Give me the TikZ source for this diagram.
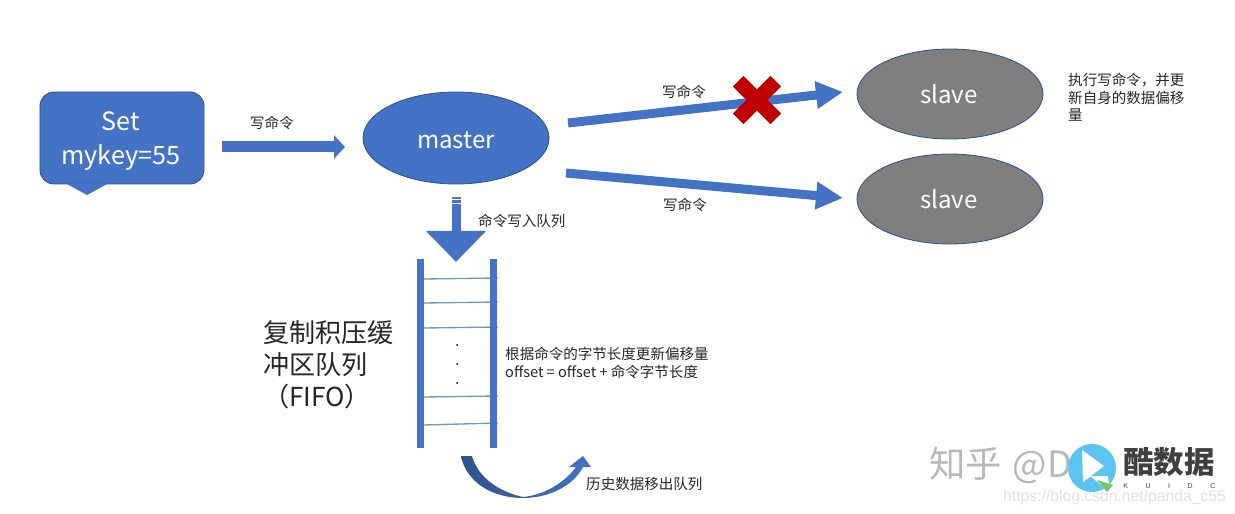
\documentclass[tikz,border=0pt]{standalone}
\usepackage{fontspec}
\setmainfont{Noto Sans CJK SC}
\newfontfamily\urlfont{Liberation Sans}
\usetikzlibrary{arrows.meta,shapes.misc,shapes.geometric}
\definecolor{boxblue}{HTML}{4472C4}
\definecolor{edgeblue}{HTML}{2F528F}
\definecolor{slavegray}{HTML}{7F7F7F}
\definecolor{crossred}{HTML}{C00000}
\definecolor{rungblue}{HTML}{6F97B8}
\definecolor{logoblue}{HTML}{5BC4F1}
\definecolor{logogreen}{HTML}{72C86A}
\tikzset{
    bignode/.style={ellipse,draw=edgeblue,line width=0.025cm,inner sep=0pt,text=white},
    bigtext/.style={inner sep=0pt,text=white,align=center,font=\fontsize{20.5}{28.5}\selectfont},
    note/.style={inner sep=0pt,text=black!85,font=\fontsize{12.4}{15}\selectfont,align=left},
    fatarrow/.style={draw=boxblue,line width=0.27cm,-{Triangle[length=0.81cm,width=0.78cm]}},
    ladderbar/.style={fill=boxblue,draw=none}
}
\begin{document}
\begin{tikzpicture}[x=0.03cm,y=-0.03cm]
    \useasboundingbox (0,0) rectangle (1235,514);

    % watermark
    \node[inner sep=0pt,anchor=west,text=black!28,font=\fontsize{31}{31}\selectfont] (zhihu) at (929,465) {知乎\hspace{0.3em}@D};
    \node[inner sep=0pt,anchor=west,text=black!12,font=\urlfont\fontsize{13.4}{14}\selectfont] (blogurl) at (1003,497) {https://blog.csdn.net/panda\_c55};
    \fill[logoblue] (1092,468) circle (24);
    \fill[white] (1082,450) -- (1104,466) -- (1083,482) -- cycle;
    \fill[white] (1090,476) -- (1108,476) -- (1110,492) -- cycle;
    \fill[logogreen] (1097,480) -- (1113,485) -- (1107,492) -- cycle;
    \node[inner sep=0pt,anchor=west,text=black!75,font=\fontsize{26}{26}\bfseries\selectfont] (kuname) at (1123,462) {酷数据};
    \node[inner sep=0pt,anchor=west,text=black!75,font=\urlfont\fontsize{6}{7}\selectfont] (kuidc) at (1123,486) {K\hspace{2.5em}U\hspace{2.5em}I\hspace{2.5em}D\hspace{2.5em}C};

    % client
    \node[fill=boxblue,draw=edgeblue,line width=0.025cm,rounded corners=0.42cm,minimum width=4.92cm,minimum height=2.76cm] (client) at (122,138) {};
    \fill[boxblue] (66,183.5) -- (87,195) -- (108,183.5) -- cycle;
    \node[bigtext,font=\fontsize{21.5}{28.5}\selectfont] (setcmd) at (121,141) {Set\\mykey=55};

    % nodes
    \node[bignode,fill=boxblue,minimum width=5.58cm,minimum height=2.76cm] (master) at (456,138) {};
    \node[bignode,fill=slavegray,minimum width=5.58cm,minimum height=2.7cm] (slavea) at (950,94) {};
    \node[bignode,fill=slavegray,minimum width=5.58cm,minimum height=2.7cm] (slaveb) at (950,199) {};
    \node[bigtext] (mastertext) at (456,140) {master};
    \node[bigtext] (slaveatext) at (949,94) {slave};
    \node[bigtext] (slavebtext) at (949,199) {slave};

    % arrows
    \coordinate (cmdstart) at (222,147);
    \coordinate (cmdend) at (345,147);
    \coordinate (afrom) at (568,123);
    \coordinate (ato) at (843,92);
    \coordinate (bfrom) at (566,173);
    \coordinate (bto) at (843,198);
    \coordinate (qfrom) at (456,197);
    \coordinate (qto) at (456,262);
    \draw[draw=boxblue,line width=0.33cm,-{Triangle[length=0.33cm,width=0.69cm]}] (cmdstart) -- (cmdend);
    \draw[fatarrow] (afrom) -- (ato);
    \draw[fatarrow] (bfrom) -- (bto);
    \draw[draw=boxblue,line width=0.27cm,-{Triangle[length=0.93cm,width=1.74cm]}] (qfrom) -- (qto);
    \foreach \y in {199,203}
        {
        \draw[white,line width=0.02cm] (451,\y) -- (461,\y);
        }
    \node[cross out,draw=crossred,line width=0.45cm,inner sep=0pt,outer sep=0pt,minimum size=1.13cm] (blocked) at (757,100) {};

    % queue
    \foreach \l/\r in {279/278,303/302,328/327,397/396,425/423}
        {
        \draw[rungblue,line width=0.04cm] (424,\l) -- (498,\r);
        }
    \fill[ladderbar] (417,259) rectangle (424,448);
    \fill[ladderbar] (490,259) rectangle (497,448);
    \foreach \y in {345,364,383}
        {
        \fill[black] (457,\y) circle (1);
        }

    % out of queue
    \shade[left color=edgeblue,right color=boxblue]
        (461,456) .. controls (466,482) and (492,498) .. (523,498)
        .. controls (550,498) and (574,485) .. (583,467)
        -- (591,467) -- (583,456) -- (569,467) -- (576,467)
        .. controls (565,482) and (545,495) .. (523,497)
        .. controls (500,492) and (478,478) .. (472,456) -- cycle;

    % labels
    \node[note,anchor=center] (cmdlabel) at (272,123) {写命令};
    \node[note,anchor=center] (alabel) at (684,92) {写命令};
    \node[note,anchor=center] (blabel) at (685,205) {写命令};
    \node[note,anchor=west] (qlabel) at (478,221) {命令写入队列};
    \node[note,anchor=north west] (execlabel) at (1068,73) {执行写命令，并更\\新自身的数据偏移\\量};
    \node[note,anchor=west] (offsetlabel) at (505,363) {根据命令的字节长度更新偏移量\\offset = offset + 命令字节长度};
    \node[note,anchor=west] (outlabel) at (586,484) {历史数据移出队列};
    \node[inner sep=0pt,anchor=north west,align=left,text=black!85,font=\fontsize{22.3}{27.3}\selectfont] (bufferlabel) at (263,320) {复制积压缓\\冲区队列\\（FIFO）};
\end{tikzpicture}
\end{document}
